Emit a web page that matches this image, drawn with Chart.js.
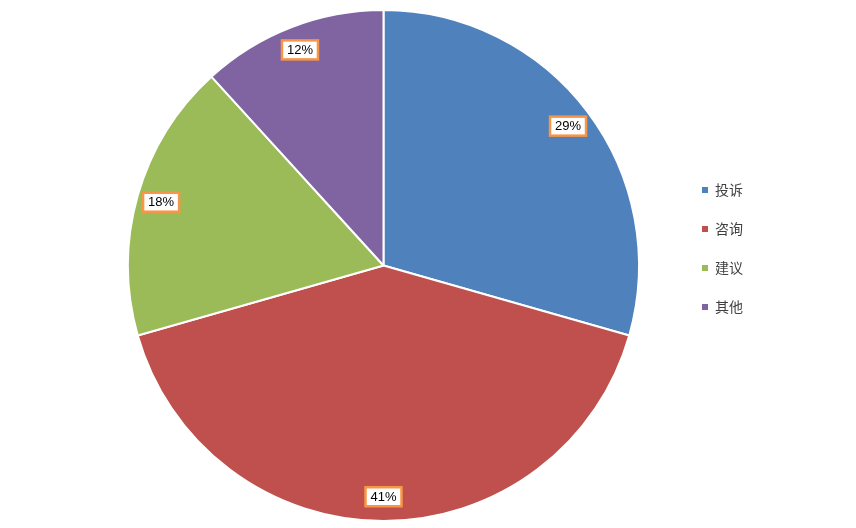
<!DOCTYPE html>
<html>
<head>
<meta charset="utf-8">
<script src="https://cdn.jsdelivr.net/npm/chart.js@4/dist/chart.umd.min.js"></script>
<style>
  html, body { margin: 0; padding: 0; background: #fff; }
  #wrap { width: 856px; height: 528px; position: relative; }
</style>
</head>
<body>
<div id="wrap"><canvas id="myChart"></canvas></div>
<script>
const categories = ['投诉', '咨询', '建议', '其他'];
const counts = [50, 70, 30, 20];
const sliceColors = ['#4F81BD', '#C0504D', '#9BBB59', '#8064A2'];

const total = counts.reduce((a, b) => a + b, 0);

// boxed percent labels, Excel style
const boxLabels = {
    id: 'boxLabels',
    afterDatasetsDraw(chart) {
        const { ctx } = chart;
        const meta = chart.getDatasetMeta(0);
        ctx.save();
        ctx.font = '13px "Liberation Sans", Arial, sans-serif';
        ctx.textAlign = 'center';
        ctx.textBaseline = 'middle';
        meta.data.forEach((arc, i) => {
            const { x, y, startAngle, endAngle, outerRadius } = arc.getProps(['x', 'y', 'startAngle', 'endAngle', 'outerRadius'], true);
            const mid = (startAngle + endAngle) / 2;
            const d = outerRadius * 0.905;
            const cx = x + Math.cos(mid) * d;
            const cy = y + Math.sin(mid) * d;
            const txt = Math.round(counts[i] / total * 100) + '%';
            const w = 36, h = 19;
            ctx.fillStyle = '#fff';
            ctx.fillRect(cx - w / 2, cy - h / 2, w, h);
            ctx.lineWidth = 2.5;
            ctx.strokeStyle = '#F79646';
            ctx.strokeRect(cx - w / 2, cy - h / 2, w, h);
            ctx.fillStyle = '#000';
            ctx.fillText(txt, cx, cy + 0.5);
        });
        ctx.restore();
    }
};

// legend on the right, drawn by hand so it sits where the original has it
const sideLegend = {
    id: 'sideLegend',
    afterDraw(chart) {
        const { ctx } = chart;
        ctx.save();
        ctx.font = '14px "Noto Sans CJK SC", sans-serif';
        ctx.textAlign = 'left';
        ctx.textBaseline = 'middle';
        categories.forEach((c, i) => {
            const yy = 190 + i * 39;
            ctx.fillStyle = sliceColors[i];
            ctx.fillRect(702, yy - 3, 6, 6);
            ctx.fillStyle = '#404040';
            ctx.fillText(c, 715, yy);
        });
        ctx.restore();
    }
};

const myChart = new Chart(document.getElementById('myChart'), {
    type: 'pie',
    data: {
        labels: categories,
        datasets: [{
            data: counts,
            backgroundColor: sliceColors,
            borderColor: '#fff',
            borderWidth: 2
        }]
    },
    options: {
        responsive: true,
        maintainAspectRatio: false,
        animation: false,
        layout: { padding: { top: 9, bottom: 6, left: 0, right: 89 } },
        plugins: {
            legend: { display: false },
            tooltip: { enabled: false }
        }
    },
    plugins: [boxLabels, sideLegend]
});
</script>
</body>
</html>
